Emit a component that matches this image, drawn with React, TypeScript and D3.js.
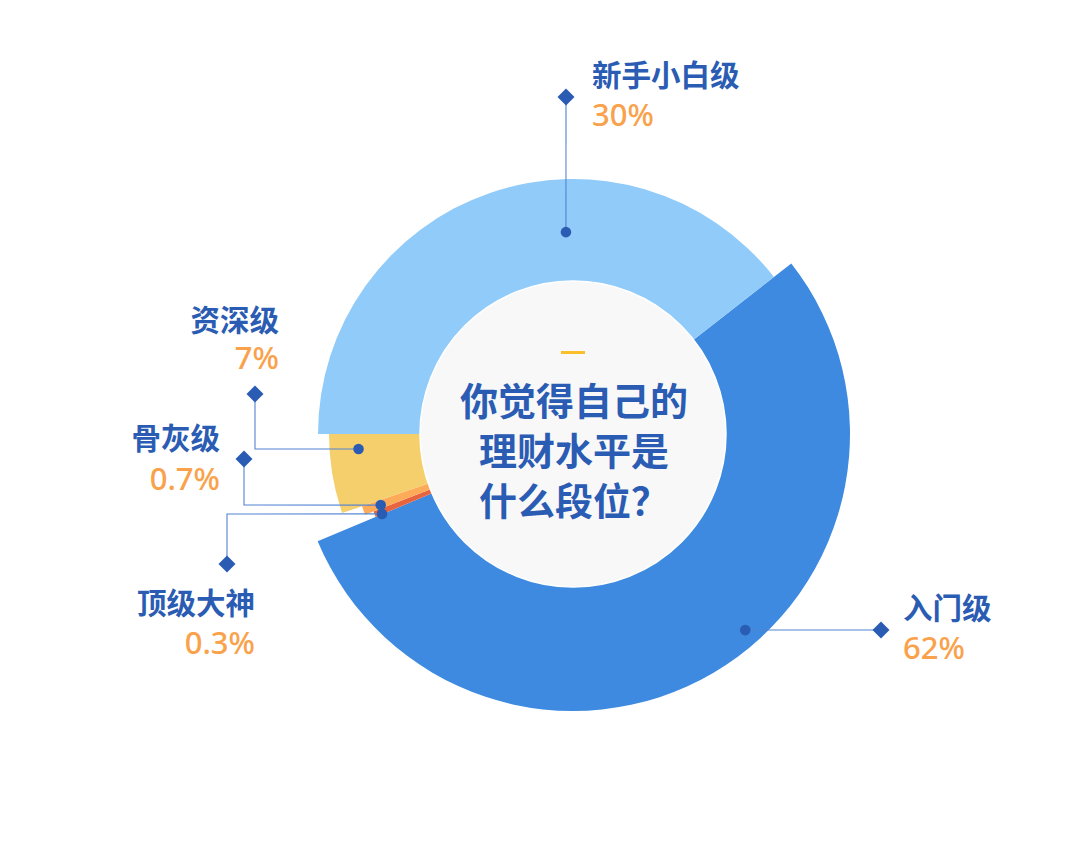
import React from "react";
import * as d3 from "d3";

// ---- data ----
const categories = ["入门级", "顶级大神", "骨灰级", "资深级", "新手小白级"];
const percentLabels = ["62%", "0.3%", "0.7%", "7%", "30%"];
// angular share of each sector as drawn in the picture (degrees)
const arcShares = [195.2, 1.6, 2.3, 18.9, 142.0];
const centerTitle = ["你觉得自己的", "理财水平是", "什么段位？"];

// ---- layout / style ----
const W = 1080;
const H = 841;
const CX = 573;
const CY = 434;
const START_DEG = 52;
const outerRadii = [277, 214, 223, 244, 255];
const sliceColors = ["#3d8ae0", "#e8643f", "#fdab59", "#f5cf6b", "#90cbf9"];
const INNER_R = 153;
const NAVY = "#2b5cb3";
const ORANGE = "#f9a24b";
const LINE = "#5283d2";

type Leader = {
  dotAngle: number;
  dotR: number;
  path: [number, number][];
  diamond: [number, number];
  textX: number;
  nameY: number;
  pctY: number;
  anchor: "start" | "end";
};
const leaders: Leader[] = [
  { dotAngle: 138.7, dotR: 261, path: [], diamond: [881, 630], textX: 903, nameY: 619, pctY: 659, anchor: "start" },
  { dotAngle: 247.3, dotR: 207, path: [[227, 514]], diamond: [227, 564], textX: 255, nameY: 614, pctY: 654, anchor: "end" },
  { dotAngle: 249.7, dotR: 205, path: [[244, 505]], diamond: [244, 459], textX: 220, nameY: 449, pctY: 490, anchor: "end" },
  { dotAngle: 266.0, dotR: 215, path: [[255, 449]], diamond: [255, 394], textX: 279, nameY: 331, pctY: 369, anchor: "end" },
  { dotAngle: 358.0, dotR: 202, path: [], diamond: [566, 97], textX: 592, nameY: 86, pctY: 126, anchor: "start" },
];

const CJK = "'Noto Sans CJK SC', 'Noto Sans', sans-serif";
const NUM = "'Noto Sans', 'Open Sans', sans-serif";

export default function App() {
  const rad = (d: number) => (d * Math.PI) / 180;
  const items = categories.map((c, i) => ({ name: c, share: arcShares[i], idx: i }));
  const pie = d3
    .pie<any>()
    .sort(null)
    .value((d) => d.share)
    .startAngle(rad(START_DEG))
    .endAngle(rad(START_DEG) + Math.PI * 2);
  const arcs = pie(items);

  return (
    <svg
      width={W}
      height={H}
      viewBox={`0 0 ${W} ${H}`}
      style={{ position: "absolute", left: 0, top: 0, background: "#fff" }}
    >
      <g transform={`translate(${CX},${CY})`}>
        {arcs.map((a, i) => {
          const gen = d3.arc<any>().innerRadius(0).outerRadius(outerRadii[i]);
          return <path key={i} d={gen(a) || ""} fill={sliceColors[i]} />;
        })}
        <circle r={INNER_R} fill="#f8f8f8" stroke="#ffffff" strokeWidth={1.5} />
        <rect x={-12} y={-83} width={24} height={3} fill="#fbbf2c" />
        {centerTitle.map((t, i) => (
          <text
            key={i}
            x={1}
            y={-19 + i * 50}
            textAnchor="middle"
            fontFamily={CJK}
            fontWeight={700}
            fontSize={38}
            fill={NAVY}
          >
            {t}
          </text>
        ))}
      </g>

      {leaders.map((l, i) => {
        const [px, py] = d3.pointRadial(rad(l.dotAngle), l.dotR);
        const dot: [number, number] = [CX + px, CY + py];
        const pts: [number, number][] = [dot, ...l.path, l.diamond];
        const line = d3.line()(pts) || "";
        const [dx, dy] = l.diamond;
        const s = 8.5;
        return (
          <g key={i}>
            <path d={line} fill="none" stroke={LINE} strokeWidth={1.1} />
            <circle cx={dot[0]} cy={dot[1]} r={5.3} fill={NAVY} />
            <path
              d={`M${dx},${dy - s}L${dx + s},${dy}L${dx},${dy + s}L${dx - s},${dy}Z`}
              fill={NAVY}
            />
            <text
              x={l.textX}
              y={l.nameY}
              textAnchor={l.anchor}
              fontFamily={CJK}
              fontWeight={700}
              fontSize={29.5}
              fill={NAVY}
            >
              {categories[i]}
            </text>
            <text
              x={l.textX}
              y={l.pctY}
              textAnchor={l.anchor}
              fontFamily={NUM}
              fontWeight={500}
              fontSize={31}
              fill={ORANGE}
            >
              {percentLabels[i]}
            </text>
          </g>
        );
      })}
    </svg>
  );
}
